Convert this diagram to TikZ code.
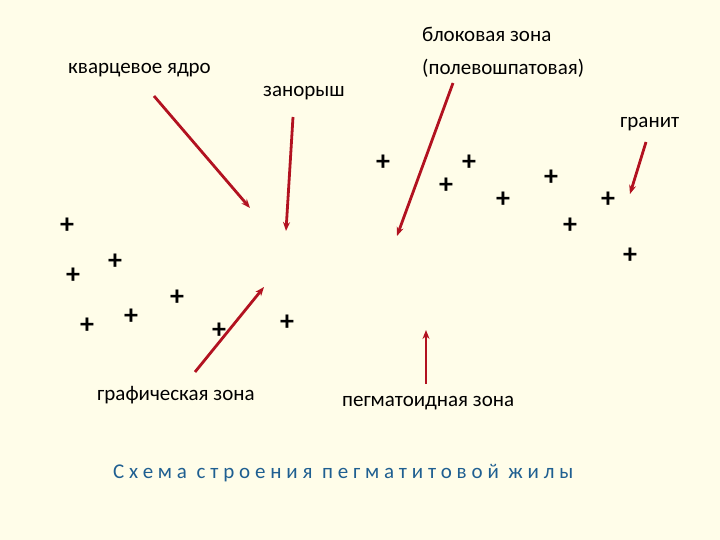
\documentclass[tikz,border=0pt]{standalone}
\usepackage{fontspec}
\setmainfont{Carlito}
\usetikzlibrary{arrows.meta}
\definecolor{bg}{RGB}{255,253,233}
\definecolor{arr}{RGB}{178,18,32}
\definecolor{ttl}{RGB}{31,95,145}
\tikzset{
  lbl/.style={font=\fontsize{21}{33}\selectfont, inner sep=0pt, anchor=west, text=black},
  pl/.style={font=\fontsize{28}{28}\selectfont\bfseries, inner sep=0pt},
  ptr/.style={draw=arr, line width=2.8pt, -{Stealth[length=9pt,width=7pt]}},
}
\begin{document}
\begin{tikzpicture}[x=1pt,y=-1pt]
\path[fill=bg] (0,0) rectangle (720,540);
% labels
\node[lbl] (kv) at (68,70) {кварцевое ядро};
\node[lbl] (zan) at (263,93) {занорыш};
\node[lbl, align=left] (blok) at (422,52) {блоковая зона\\(полевошпатовая)};
\node[lbl] (gran) at (620,124) {гранит};
\node[lbl] (graf) at (97,395) {графическая зона};
\node[lbl] (pegm) at (342,403) {пегматоидная зона};
\node[font=\fontsize{21}{25}\selectfont\addfontfeatures{LetterSpace=23}, text=ttl, inner sep=0pt, anchor=west] (title) at (113,473) {Схема строения пегматитовой жилы};
% arrow coordinates
\coordinate (a1s) at (154,96);  \coordinate (a1e) at (250,208);
\coordinate (a2s) at (293,117); \coordinate (a2e) at (286,231);
\coordinate (a3s) at (453,83);  \coordinate (a3e) at (397,236);
\coordinate (a4s) at (646,142); \coordinate (a4e) at (630,194);
\coordinate (a5s) at (195,372); \coordinate (a5e) at (264,287);
\coordinate (a6s) at (426,384); \coordinate (a6e) at (426,330);
\draw[ptr] (a1s) -- (a1e);
\draw[ptr] (a2s) -- (a2e);
\draw[ptr] (a3s) -- (a3e);
\draw[ptr] (a4s) -- (a4e);
\draw[ptr] (a5s) -- (a5e);
\draw[ptr] (a6s) -- (a6e);
% plus signs
\foreach \x/\y [count=\i] in {67/226,73/276,115/262,87/326,131/317,177/298,219/331,287/323,383/163,446/186,469/163,503/200,551/178,570/226,608/200,630/256}
  \node[pl] (p\i) at (\x,\y) {+};
\end{tikzpicture}
\end{document}
